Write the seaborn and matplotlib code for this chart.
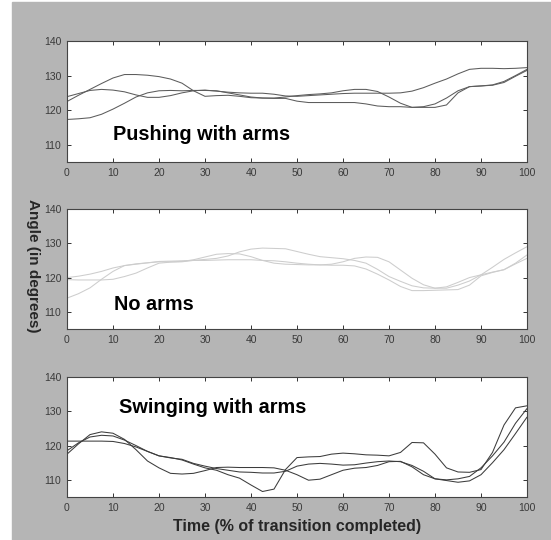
import numpy as np
import pandas as pd
import seaborn as sns
import matplotlib.pyplot as plt
from matplotlib.patches import Rectangle

# time axis, % of transition (sampled every 2.5 %)
time_pct = np.arange(0, 100.1, 2.5)

# joint angle traces (deg), 3 trials per condition
push_1 = [122.5, 124.3, 126.0, 127.7, 129.3, 130.3, 130.3, 130.1, 129.7, 129.0, 127.8,
          125.6, 124.0, 124.2, 124.3, 124.0, 123.6, 123.5, 123.4, 123.4, 122.6, 122.2,
          122.2, 122.2, 122.2, 122.2, 121.8, 121.2, 121.0, 121.0, 120.8, 120.8, 120.8,
          121.5, 125.0, 126.8, 127.0, 127.3, 128.3, 130.0, 131.8]
push_2 = [117.3, 117.5, 117.8, 118.8, 120.3, 122.0, 123.8, 125.0, 125.6, 125.7, 125.6,
          125.7, 125.7, 125.6, 125.0, 124.4, 123.8, 123.5, 123.5, 123.8, 124.2, 124.5,
          124.7, 125.0, 125.6, 126.0, 126.0, 125.4, 123.8, 122.0, 120.8, 121.0, 121.8,
          123.5, 125.6, 126.8, 127.0, 127.2, 128.0, 129.8, 131.5]
push_3 = [123.9, 124.8, 125.7, 126.0, 125.8, 125.3, 124.4, 123.7, 123.7, 124.2, 125.0,
          125.6, 125.8, 125.5, 125.2, 125.0, 124.9, 124.9, 124.6, 124.1, 124.0, 124.2,
          124.4, 124.6, 124.8, 124.9, 124.9, 124.9, 124.9, 125.0, 125.5, 126.5, 127.8,
          129.0, 130.5, 131.8, 132.1, 132.1, 132.0, 132.1, 132.3]

noarms_1 = [120.0, 120.4, 121.0, 121.8, 122.8, 123.5, 123.9, 124.3, 124.7, 124.8, 124.9,
            125.0, 125.0, 125.1, 125.2, 125.2, 125.2, 125.0, 124.9, 124.6, 124.2, 123.9,
            123.7, 123.9, 124.6, 125.6, 126.0, 125.9, 124.6, 122.2, 119.8, 117.9, 116.9,
            117.3, 118.6, 120.0, 120.8, 121.6, 122.3, 124.0, 125.6]
noarms_2 = [119.4, 119.3, 119.3, 119.3, 119.5, 120.3, 121.3, 122.8, 124.2, 124.5, 124.6,
            125.0, 125.3, 125.6, 126.3, 127.5, 128.3, 128.6, 128.5, 128.4, 127.6, 126.8,
            126.1, 125.8, 125.5, 125.0, 124.2, 122.4, 120.3, 118.9, 117.6, 117.0, 116.9,
            116.9, 117.8, 119.0, 120.8, 123.0, 125.3, 127.2, 129.0]
noarms_3 = [114.0, 115.3, 117.0, 119.5, 121.8, 123.5, 124.0, 124.3, 124.6, 124.6, 124.7,
            125.2, 126.0, 126.8, 127.0, 126.9, 126.1, 125.0, 124.2, 123.9, 123.8, 123.7,
            123.7, 123.6, 123.6, 123.4, 122.5, 121.0, 119.3, 117.4, 116.2, 116.2, 116.3,
            116.4, 116.5, 117.8, 120.5, 121.5, 122.3, 124.2, 126.6]

swing_1 = [117.5, 120.5, 123.2, 124.0, 123.6, 121.8, 118.8, 115.5, 113.5, 111.9, 111.7,
           111.9, 112.7, 113.6, 113.7, 113.6, 113.6, 113.6, 113.5, 112.8, 111.5, 109.9,
           110.2, 111.5, 112.8, 113.4, 113.6, 114.2, 115.3, 115.4, 113.8, 111.5, 110.3,
           109.8, 109.3, 109.7, 111.5, 115.0, 118.8, 123.5, 128.3]
swing_2 = [118.5, 120.8, 122.5, 123.0, 122.8, 121.6, 120.0, 118.3, 117.0, 116.5, 115.8,
           114.6, 113.5, 112.8, 111.5, 110.5, 108.5, 106.6, 107.3, 113.0, 116.5, 116.7,
           116.8, 117.5, 117.8, 117.6, 117.3, 117.2, 117.0, 118.0, 120.9, 120.8, 117.5,
           113.5, 112.3, 112.2, 113.0, 118.0, 126.0, 131.0, 131.6]
swing_3 = [121.3, 121.3, 121.3, 121.3, 121.2, 120.6, 119.6, 118.3, 117.0, 116.4, 116.0,
           114.8, 114.0, 113.3, 112.8, 112.3, 112.2, 112.0, 112.0, 112.5, 114.0, 114.6,
           114.8, 114.6, 114.3, 114.4, 114.9, 115.3, 115.5, 115.3, 114.2, 112.5, 110.3,
           110.0, 110.3, 111.0, 113.5, 117.0, 121.0, 126.5, 130.8]

conditions = ["Pushing with arms", "No arms", "Swinging with arms"]
traces = [[push_1, push_2, push_3], [noarms_1, noarms_2, noarms_3], [swing_1, swing_2, swing_3]]
line_cols = ["#5c5c5c", "#cdcdcd", "#3c3c3c"]
label_pos = [(10.1, 111.4), (10.2, 110.6), (11.2, 129.4)]

sns.set_style("ticks")
plt.rcParams['font.family'] = ['Liberation Sans', 'DejaVu Sans']

fig = plt.figure(figsize=(5.51, 5.40), dpi=100)
fig.patch.set_facecolor("white")
fig.patches.append(Rectangle((12 / 551, 0), 1 - 12 / 551, 1 - 2 / 540,
                             transform=fig.transFigure, color="#b5b5b5", zorder=-10))

bottoms = [1 - 162 / 540, 1 - 329 / 540, 1 - 497 / 540]
heights = [121 / 540, 120 / 540, 120 / 540]

for i, cond in enumerate(conditions):
    ax = fig.add_axes([67 / 551, bottoms[i], 460 / 551, heights[i]])
    ax.set_facecolor("white")
    rows = []
    for k, tr in enumerate(traces[i]):
        for t, v in zip(time_pct, tr):
            rows.append({"time": t, "angle": v, "trial": k})
    df = pd.DataFrame(rows)
    sns.lineplot(data=df, x="time", y="angle", units="trial", estimator=None,
                 color=line_cols[i], linewidth=0.75, ax=ax)
    ax.set_xlim(0, 100)
    ax.set_ylim(105, 140)
    ax.set_xticks(range(0, 101, 10))
    ax.set_yticks([110, 120, 130, 140])
    ax.set_xlabel("")
    ax.set_ylabel("")
    ax.tick_params(direction="in", length=3, width=0.7, top=True, right=True,
                   labelsize=7.5, labelcolor="#3a3a3a", color="#333333", pad=4)
    for s in ax.spines.values():
        s.set_color("#444444")
        s.set_linewidth(0.8)
    ax.text(label_pos[i][0], label_pos[i][1], cond, fontsize=14.3, fontweight="bold",
            ha="left", va="baseline", color="black")

fig.text(0.059, 1 - 266 / 540, "Angle (in degrees)", rotation=270, fontsize=11,
         fontweight="bold", ha="center", va="center")
fig.text(297 / 551, 1 - 526 / 540, "Time (% of transition completed)", fontsize=11.5,
         fontweight="bold", ha="center", va="center")

fig.savefig("out.png", dpi=100, facecolor=fig.get_facecolor())
